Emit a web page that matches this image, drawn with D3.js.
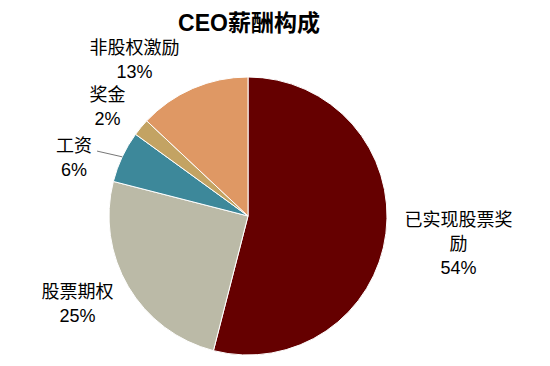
<!DOCTYPE html>
<html>
<head>
<meta charset="utf-8">
<script src="https://cdn.jsdelivr.net/npm/d3@7"></script>
<style>
  body { margin: 0; background: #fff; }
  text { font-family: "Liberation Sans", Arial, "Noto Sans CJK SC", sans-serif; }
</style>
</head>
<body>
<div id="chart"></div>
<script>
// data, clockwise from 12 o'clock
const categories = ["已实现股票奖励", "股票期权", "工资", "奖金", "非股权激励"];
const values = [54, 25, 6, 2, 13];
const labelLines = [["已实现股票奖", "励", "54%"], ["股票期权", "25%"], ["工资", "6%"], ["奖金", "2%"], ["非股权激励", "13%"]];

const colors = ["#650000", "#bbbaa7", "#3d889a", "#c3a363", "#df9864"];
// label nudges from the label-arc centroid
const nudges = [[22, -14], [-7, -15], [-2, 17], [6, 6], [-38, 12]];

const width = 550, height = 366;
const cx = 248, cy = 216, radius = 139;

const svg = d3.select("#chart").append("svg")
  .attr("width", width)
  .attr("height", height);

svg.append("text")
  .attr("x", 249)
  .attr("y", 31)
  .attr("text-anchor", "middle")
  .attr("font-size", 23)
  .attr("font-weight", "bold")
  .attr("fill", "#000")
  .text("CEO薪酬构成");

const pie = d3.pie().sort(null).value(d => d.value);
const arcs = pie(categories.map((c, i) => ({ name: c, value: values[i], i: i })));

const arc = d3.arc().innerRadius(0).outerRadius(radius);
const labelArc = d3.arc().innerRadius(190).outerRadius(190);
const edgeArc = d3.arc().innerRadius(radius).outerRadius(radius);

const g = svg.append("g").attr("transform", `translate(${cx},${cy})`);

g.selectAll("path")
  .data(arcs)
  .join("path")
  .attr("d", arc)
  .attr("fill", d => colors[d.data.i])
  .attr("stroke", "#fff")
  .attr("stroke-width", 1);

const fontSize = 18, lineH = 24;

const labels = g.selectAll("text.lbl")
  .data(arcs)
  .join("text")
  .attr("class", "lbl")
  .attr("text-anchor", "middle")
  .attr("font-size", fontSize)
  .attr("fill", "#000")
  .each(function(d) {
    const c = labelArc.centroid(d);
    const n = nudges[d.data.i];
    const x = c[0] + n[0], y = c[1] + n[1];
    d3.select(this).selectAll("tspan")
      .data(labelLines[d.data.i])
      .join("tspan")
      .attr("x", x)
      .attr("y", (t, k) => y + k * lineH)
      .text(t => t);
  });

// leader line for 工资
const wage = arcs[2];
const wc = labelArc.centroid(wage), wn = nudges[2];
const edge = edgeArc.centroid(wage);
g.append("line")
  .attr("x1", wc[0] + wn[0] + fontSize + 5)
  .attr("y1", wc[1] + wn[1] - 1)
  .attr("x2", edge[0])
  .attr("y2", edge[1])
  .attr("stroke", "#777")
  .attr("stroke-width", 1);
</script>
</body>
</html>
